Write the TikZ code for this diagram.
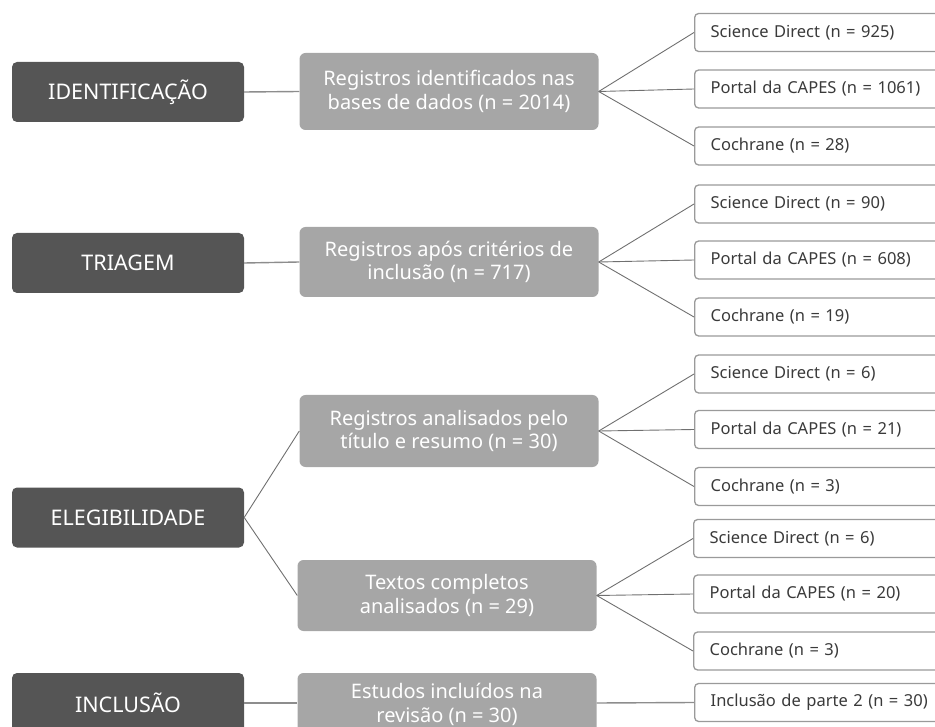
\documentclass[tikz,border=0pt]{standalone}
\usepackage{fontspec}
\setmainfont{Noto Sans}
\definecolor{darkbox}{HTML}{555555}
\definecolor{graybox}{HTML}{A6A6A6}
\definecolor{rborder}{HTML}{9A9A9A}
\definecolor{rtext}{HTML}{3A3A3A}
\definecolor{conn}{HTML}{707070}
\begin{document}
\begin{tikzpicture}[x=1pt,y=-1pt,
  stage/.style={fill=darkbox, rounded corners=5pt, minimum width=232pt, minimum height=60pt,
    text=white, font=\fontsize{21.5}{26}\selectfont, inner sep=0pt},
  mid/.style={fill=graybox, rounded corners=6pt, minimum width=299pt,
    text=white, font=\fontsize{20}{23.5}\selectfont, align=center, inner sep=0pt},
  src/.style={draw=rborder, line width=1.3pt, fill=white, rounded corners=4pt, anchor=west,
    minimum width=280pt, minimum height=38pt, text width=250pt, align=left,
    text=rtext, font=\fontsize{16.5}{19}\selectfont, inner xsep=16pt, inner ysep=0pt},
  link/.style={draw=conn, line width=0.9pt},
  stem/.style={draw=conn!80, line width=1.4pt}]
\useasboundingbox (0,0) rectangle (935,727);
\clip (0,0) rectangle (935,727);

% Row 1
\node[stage] (s1) at (128,92) {IDENTIFICAÇÃO};
\node[mid, minimum height=77pt] (m1) at (449,91.5) {Registros identificados nas\\bases de dados (n = 2014)};
\node[src] (r1a) at (694,32.5) {Science Direct (n = 925)};
\node[src] (r1b) at (694,89) {Portal da CAPES (n = 1061)};
\node[src] (r1c) at (694,146) {Cochrane (n = 28)};

% Row 2
\node[stage] (s2) at (128,263) {TRIAGEM};
\node[mid, minimum height=70pt] (m2) at (449,262) {Registros após critérios de\\inclusão (n = 717)};
\node[src] (r2a) at (694,204) {Science Direct (n = 90)};
\node[src] (r2b) at (694,260) {Portal da CAPES (n = 608)};
\node[src] (r2c) at (694,317) {Cochrane (n = 19)};

% Row 3 (ELEGIBILIDADE)
\node[stage] (s3) at (128,517.5) {ELEGIBILIDADE};
\node[mid, minimum height=72pt] (m3) at (449,431) {Registros analisados pelo\\título e resumo (n = 30)};
\node[src] (r3a) at (694,374) {Science Direct (n = 6)};
\node[src] (r3b) at (694,429.5) {Portal da CAPES (n = 21)};
\node[src] (r3c) at (694,486.5) {Cochrane (n = 3)};
\node[mid, minimum height=71pt] (m4) at (447,595.5) {Textos completos\\analisados (n = 29)};
\node[src] (r4a) at (693,538.5) {Science Direct (n = 6)};
\node[src] (r4b) at (693,594) {Portal da CAPES (n = 20)};
\node[src] (r4c) at (693,651) {Cochrane (n = 3)};

% Row 5
\node[stage] (s5) at (128,703) {INCLUSÃO};
\node[mid, minimum height=60pt, text depth=0pt] (m5) at (447,703) {Estudos incluídos na\\revisão (n = 30)};
\node[src] (r5a) at (694,702.5) {Inclusão de parte 2 (n = 30)};

% connectors
\draw[stem] (s1.east) -- (m1.west);
\draw[stem] (s2.east) -- (m2.west);
\draw[stem] (s5.east) -- (m5.west);
\draw[link] (s3.east) -- (m3.west);
\draw[link] (s3.east) -- (m4.west);
\foreach \m/\r in {m1/r1a,m1/r1b,m1/r1c,m2/r2a,m2/r2b,m2/r2c,m3/r3a,m3/r3b,m3/r3c,m4/r4a,m4/r4b,m4/r4c}
  \draw[link] (\m.east) -- (\r.west);
\draw[stem] (m5.east) -- (r5a.west);
\end{tikzpicture}
\end{document}
